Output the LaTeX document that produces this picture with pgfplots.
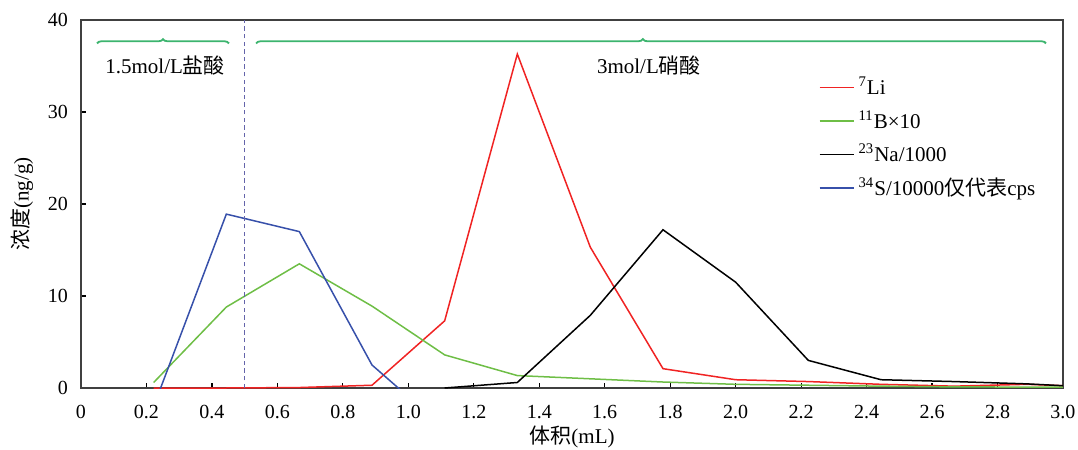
\documentclass[border=0pt]{standalone}
\usepackage{fontspec}
\setmainfont{Liberation Serif}
\newfontfamily\cjk{Noto Sans CJK SC}
\usepackage{pgfplots}
\pgfplotsset{compat=1.18}
\usetikzlibrary{decorations.pathreplacing}
\definecolor{cLi}{RGB}{240,35,35}
\definecolor{cB}{RGB}{110,190,70}
\definecolor{cNa}{RGB}{0,0,0}
\definecolor{cS}{RGB}{55,80,170}
\definecolor{cBrace}{RGB}{60,180,110}
\definecolor{cDash}{RGB}{100,100,170}
\begin{document}
\begin{tikzpicture}
\useasboundingbox (-40.5pt,-31pt) rectangle (498.5pt,194pt);
\begin{axis}[
  scale only axis, width=491pt, height=184pt,
  xmin=0, xmax=3, ymin=0, ymax=40,
  xtick={0,0.2,0.4,0.6,0.8,1.0,1.2,1.4,1.6,1.8,2.0,2.2,2.4,2.6,2.8,3.0},
  xticklabels={0,0.2,0.4,0.6,0.8,1.0,1.2,1.4,1.6,1.8,2.0,2.2,2.4,2.6,2.8,3.0},
  ytick={0,10,20,30,40},
  yticklabels={0,10,20,30,40},
  xtick pos=bottom, ytick pos=left,
  tick align=inside,
  major tick length=2.5pt,
  tick style={black, line width=0.6pt},
  axis line style={black!75, line width=0.7pt},
  /pgf/number format/assume math mode=true,
  ticklabel style={font=\fontsize{10}{12}\selectfont},
  xticklabel style={yshift=-5pt},
  yticklabel style={xshift=-3pt},
  xlabel={{\cjk 体积}(mL)},
  ylabel={{\cjk 浓度}(ng/g)},
  xlabel style={at={(axis description cs:0.5,-0.133)}, anchor=center, font=\fontsize{10.5}{12}\selectfont},
  ylabel style={at={(axis description cs:-0.0600,0.5)}, anchor=center, font=\fontsize{10.5}{12}\selectfont},
  legend style={at={(axis description cs:0.745,0.868)}, anchor=north west, draw=none, fill=none,
    font=\fontsize{10.5}{12}\selectfont, row sep=2.5pt},
  legend cell align=left,
]
\addplot[color=cLi, line width=0.75pt, mark=none] coordinates {
 (0.222,0) (0.444,0) (0.667,0.05) (0.889,0.3) (1.111,7.3) (1.333,36.3) (1.556,15.3)
 (1.778,2.1) (2.0,0.9) (2.222,0.7) (2.444,0.4) (2.667,0.2) (2.889,0.4) (3.0,0.25)};
\addlegendentry{\textsuperscript{7}Li}
\addplot[color=cB, line width=0.75pt, mark=none] coordinates {
 (0.222,0.6) (0.444,8.8) (0.667,13.5) (0.889,8.9) (1.111,3.6) (1.333,1.35) (1.556,1.0)
 (1.778,0.65) (2.0,0.4) (2.222,0.3) (2.444,0.2) (2.667,0.12) (2.889,0.1) (3.0,0.1)};
\addlegendentry{\textsuperscript{11}B×10}
\addplot[color=cNa, line width=0.75pt, mark=none] coordinates {
 (1.111,0) (1.333,0.6) (1.556,7.9) (1.778,17.2) (2.0,11.5) (2.222,3.0) (2.444,0.9)
 (2.667,0.7) (2.889,0.45) (3.0,0.25)};
\addlegendentry{\textsuperscript{23}Na/1000}
\addplot[color=cS, line width=0.75pt, mark=none] coordinates {
 (0.222,-2.0) (0.444,18.9) (0.667,17.0) (0.889,2.5) (1.111,-4.4)};
\addlegendentry{\textsuperscript{34}S/10000{\cjk 仅代表}cps}
\draw[cDash, line width=0.7pt, dash pattern=on 2.2pt off 1.6pt] (axis cs:0.5,0) -- (axis cs:0.5,40);
\draw[cBrace, line width=0.9pt, decorate, decoration={brace, amplitude=2.2pt}]
  (axis cs:0.049,37.45) -- (axis cs:0.452,37.45);
\draw[cBrace, line width=0.9pt, decorate, decoration={brace, amplitude=2.2pt, aspect=0.4896}]
  (axis cs:0.535,37.45) -- (axis cs:2.948,37.45);
\node[font=\fontsize{10.5}{12}\selectfont, anchor=center] at (axis cs:0.257,35.1) {1.5mol/L{\cjk 盐酸}};
\node[font=\fontsize{10.5}{12}\selectfont, anchor=center] at (axis cs:1.735,35.1) {3mol/L{\cjk 硝酸}};
\end{axis}
\end{tikzpicture}
\end{document}
